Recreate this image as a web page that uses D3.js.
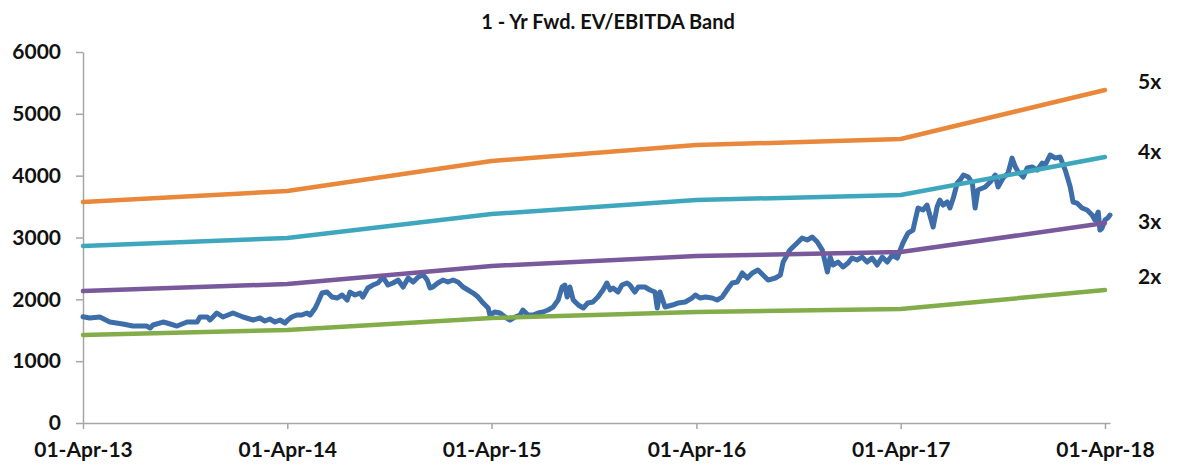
<!DOCTYPE html>
<html>
<head>
<meta charset="utf-8">
<script src="https://cdn.jsdelivr.net/npm/d3@7"></script>
<style>
  html, body { margin: 0; padding: 0; background: #fff; }
  #chart { width: 1178px; height: 466px; }
  text { font-family: 'Lato', 'Open Sans', sans-serif; font-weight: 700; fill: #111; }
</style>
</head>
<body>
<div id="chart"></div>
<script>
// 1-yr forward EV/EBITDA band chart

const chartTitle = '1 - Yr Fwd. EV/EBITDA Band';
const yTicks = [0, 1000, 2000, 3000, 4000, 5000, 6000];
const xTickDates = ['2013-04-01', '2014-04-01', '2015-04-01', '2016-04-01', '2017-04-01', '2018-04-01'];

// band lines (one value per April 1st)
const bandDates = ['2013-04-01', '2014-04-01', '2015-04-01', '2016-04-01', '2017-04-01', '2018-04-01'];
const band5x = [3574, 3751, 4237, 4495, 4592, 5385];
const band4x = [2862, 2991, 3380, 3606, 3687, 4301];
const band3x = [2134, 2248, 2539, 2700, 2765, 3234];
const band2x = [1423, 1504, 1698, 1795, 1843, 2150];
const bandNames = ['5x', '4x', '3x', '2x'];
const bandColors = ['#E9873A', '#3FA7BD', '#78599B', '#83AD4A'];
// where the right-hand labels sit (in index units)
const bandLabelAt = [5515, 4385, 3250, 2360];

// EV series
const price = [
  ['2013-04-01', 1719], ['2013-04-13', 1698], ['2013-05-01', 1714], ['2013-05-19', 1633], ['2013-06-11', 1601],
  ['2013-06-29', 1568], ['2013-07-24', 1568], ['2013-07-30', 1536], ['2013-08-04', 1585], ['2013-08-22', 1633],
  ['2013-08-29', 1617], ['2013-09-16', 1568], ['2013-10-04', 1633], ['2013-10-22', 1633], ['2013-10-27', 1714],
  ['2013-11-09', 1714], ['2013-11-14', 1666], ['2013-11-26', 1779], ['2013-12-07', 1714], ['2013-12-25', 1779],
  ['2014-01-12', 1714], ['2014-01-30', 1666], ['2014-02-11', 1698], ['2014-02-20', 1649], ['2014-03-01', 1682],
  ['2014-03-10', 1633], ['2014-03-19', 1666], ['2014-03-28', 1617], ['2014-04-02', 1666], ['2014-04-09', 1714],
  ['2014-04-18', 1746], ['2014-04-27', 1746], ['2014-05-06', 1779], ['2014-05-12', 1746], ['2014-05-21', 1860],
  ['2014-05-26', 1957], ['2014-06-02', 2102], ['2014-06-11', 2118], ['2014-06-20', 2037], ['2014-06-29', 2021],
  ['2014-07-08', 2070], ['2014-07-17', 1989], ['2014-07-22', 2118], ['2014-07-31', 2070], ['2014-08-09', 2102],
  ['2014-08-14', 2037], ['2014-08-23', 2183], ['2014-09-01', 2231], ['2014-09-10', 2264], ['2014-09-19', 2361],
  ['2014-09-28', 2231], ['2014-10-07', 2264], ['2014-10-16', 2312], ['2014-10-25', 2199], ['2014-11-03', 2345],
  ['2014-11-12', 2280], ['2014-11-21', 2361], ['2014-11-30', 2393], ['2014-12-07', 2312], ['2014-12-12', 2183],
  ['2014-12-17', 2199], ['2014-12-26', 2264], ['2015-01-04', 2312], ['2015-01-13', 2280], ['2015-01-22', 2312],
  ['2015-01-31', 2280], ['2015-02-09', 2199], ['2015-02-18', 2151], ['2015-02-27', 2102], ['2015-03-08', 2037],
  ['2015-03-17', 1940], ['2015-03-26', 1860], ['2015-03-29', 1746], ['2015-04-07', 1795], ['2015-04-16', 1779],
  ['2015-04-25', 1714], ['2015-05-04', 1666], ['2015-05-13', 1714], ['2015-05-22', 1746], ['2015-05-27', 1827],
  ['2015-06-05', 1746], ['2015-06-14', 1746], ['2015-06-23', 1779], ['2015-07-02', 1795], ['2015-07-11', 1827],
  ['2015-07-20', 1876], ['2015-07-29', 1989], ['2015-08-05', 2199], ['2015-08-10', 2231], ['2015-08-14', 2037],
  ['2015-08-19', 2199], ['2015-08-25', 1989], ['2015-09-03', 1908], ['2015-09-12', 1860], ['2015-09-20', 1940],
  ['2015-09-29', 1957], ['2015-10-08', 2037], ['2015-10-17', 2151], ['2015-10-24', 2264], ['2015-10-30', 2151],
  ['2015-11-04', 2183], ['2015-11-13', 2118], ['2015-11-20', 2231], ['2015-11-29', 2264], ['2015-12-04', 2231],
  ['2015-12-13', 2118], ['2015-12-19', 2199], ['2015-12-31', 2199], ['2016-01-09', 2151], ['2016-01-18', 2118],
  ['2016-01-22', 1860], ['2016-01-27', 2118], ['2016-02-05', 1876], ['2016-02-18', 1908], ['2016-02-28', 1940],
  ['2016-03-12', 1957], ['2016-03-24', 2021], ['2016-03-30', 2070], ['2016-04-08', 2021], ['2016-04-17', 2037],
  ['2016-04-29', 2021], ['2016-05-08', 1989], ['2016-05-17', 2037], ['2016-05-28', 2183], ['2016-06-04', 2264],
  ['2016-06-13', 2280], ['2016-06-22', 2426], ['2016-07-01', 2345], ['2016-07-10', 2426], ['2016-07-20', 2474],
  ['2016-07-29', 2393], ['2016-08-07', 2312], ['2016-08-20', 2345], ['2016-08-29', 2393], ['2016-09-03', 2603],
  ['2016-09-15', 2797], ['2016-09-28', 2911], ['2016-10-07', 2991], ['2016-10-16', 2959], ['2016-10-25', 3008],
  ['2016-11-03', 2927], ['2016-11-12', 2797], ['2016-11-21', 2442], ['2016-11-26', 2684], ['2016-12-01', 2555],
  ['2016-12-10', 2603], ['2016-12-19', 2523], ['2016-12-28', 2587], ['2017-01-04', 2668], ['2017-01-13', 2636],
  ['2017-01-22', 2684], ['2017-01-31', 2603], ['2017-02-09', 2668], ['2017-02-18', 2555], ['2017-02-27', 2684],
  ['2017-03-08', 2603], ['2017-03-17', 2717], ['2017-03-26', 2668], ['2017-03-31', 2797], ['2017-04-05', 2911],
  ['2017-04-14', 3072], ['2017-04-23', 3121], ['2017-04-27', 3283], ['2017-05-02', 3477], ['2017-05-11', 3444],
  ['2017-05-18', 3525], ['2017-05-24', 3331], ['2017-05-29', 3169], ['2017-06-05', 3493], ['2017-06-10', 3606],
  ['2017-06-16', 3525], ['2017-06-23', 3574], ['2017-06-28', 3477], ['2017-07-04', 3638], ['2017-07-11', 3881],
  ['2017-07-16', 3929], ['2017-07-22', 4010], ['2017-07-31', 3978], ['2017-08-07', 3881], ['2017-08-12', 3477],
  ['2017-08-17', 3768], ['2017-08-30', 3816], ['2017-09-08', 3897], ['2017-09-17', 4010], ['2017-09-22', 3816],
  ['2017-10-01', 3962], ['2017-10-10', 4043], ['2017-10-17', 4285], ['2017-10-23', 4140], ['2017-10-28', 4059],
  ['2017-11-06', 3978], ['2017-11-13', 4123], ['2017-11-22', 4140], ['2017-12-01', 4091], ['2017-12-10', 4204],
  ['2017-12-15', 4172], ['2017-12-24', 4334], ['2018-01-02', 4285], ['2018-01-11', 4301], ['2018-01-20', 4091],
  ['2018-01-29', 3816], ['2018-02-03', 3574], ['2018-02-10', 3557], ['2018-02-19', 3477], ['2018-02-28', 3444],
  ['2018-03-09', 3363], ['2018-03-14', 3283], ['2018-03-20', 3412], ['2018-03-23', 3121], ['2018-03-27', 3153],
  ['2018-04-01', 3283], ['2018-04-06', 3315], ['2018-04-10', 3363]
];
const priceColor = '#3D6EAA';

function renderBand() {
  const width = 1178, height = 466;
  const margin = { top: 52, right: 68, bottom: 43, left: 83 };
  const parse = d3.utcParse('%Y-%m-%d');
  const fmt = d3.utcFormat('%d-%b-%y');

  const svg = d3.select('#chart').append('svg')
    .attr('width', width)
    .attr('height', height);

  const x = d3.scaleUtc()
    .domain([parse('2013-04-01'), parse('2018-04-10')])
    .range([margin.left, width - margin.right]);
  const y = d3.scaleLinear()
    .domain([0, 6000])
    .range([height - margin.bottom, margin.top]);

  // title
  svg.append('text')
    .attr('x', 608)
    .attr('y', 29)
    .attr('text-anchor', 'middle')
    .style('font-size', '20px')
    .text(chartTitle);

  // axes
  const xAxis = d3.axisBottom(x)
    .tickValues(xTickDates.map(parse))
    .tickFormat(fmt)
    .tickSizeInner(6)
    .tickSizeOuter(0)
    .tickPadding(13);
  const gx = svg.append('g')
    .attr('transform', `translate(0,${height - margin.bottom})`)
    .call(xAxis);

  const yAxis = d3.axisLeft(y)
    .tickValues(yTicks)
    .tickFormat(d3.format('d'))
    .tickSizeInner(7)
    .tickSizeOuter(0)
    .tickPadding(15);
  const gy = svg.append('g')
    .attr('transform', `translate(${margin.left},0)`)
    .call(yAxis);

  [gx, gy].forEach(g => {
    g.select('.domain').attr('stroke', '#A6A6A6').attr('stroke-width', 1.5);
    g.selectAll('.tick line').attr('stroke', '#A6A6A6').attr('stroke-width', 1.5);
    g.selectAll('.tick text')
      .attr('fill', '#111')
      .style('font-family', "'Lato', sans-serif")
      .style('font-weight', '700')
      .style('font-size', '21px');
  });

  const line = d3.line()
    .x(d => x(d.date))
    .y(d => y(d.value));

  // EV line first, bands drawn on top
  svg.append('path')
    .datum(price.map(([d, v]) => ({ date: parse(d), value: v })))
    .attr('fill', 'none')
    .attr('stroke', priceColor)
    .attr('stroke-width', 5)
    .attr('stroke-linejoin', 'round')
    .attr('stroke-linecap', 'round')
    .attr('d', line);

  const bands = [band5x, band4x, band3x, band2x];
  bands.forEach((vals, i) => {
    const pts = vals.map((v, j) => ({ date: parse(bandDates[j]), value: v }));
    svg.append('path')
      .datum(pts)
      .attr('fill', 'none')
      .attr('stroke', bandColors[i])
      .attr('stroke-width', 4.5)
      .attr('stroke-linejoin', 'round')
      .attr('stroke-linecap', 'round')
      .attr('d', line);

    svg.append('text')
      .attr('x', 1138)
      .attr('y', y(bandLabelAt[i]))
      .attr('dy', '0.35em')
      .style('font-size', '21px')
      .text(bandNames[i]);
  });
}

renderBand();
</script>
</body>
</html>
